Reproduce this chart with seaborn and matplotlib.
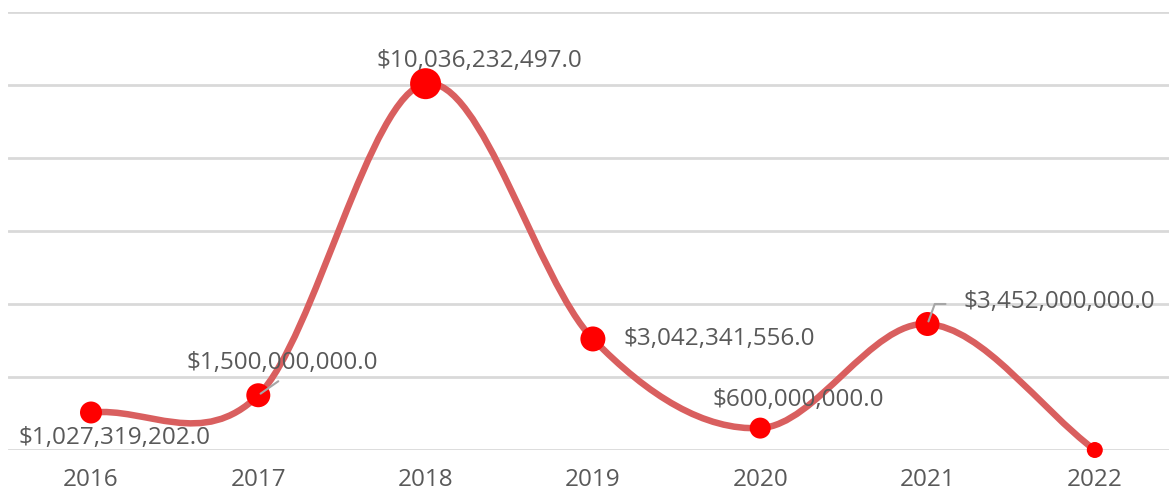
import numpy as np
import pandas as pd
import matplotlib
matplotlib.use("Agg")
import matplotlib.pyplot as plt
from matplotlib.path import Path
from matplotlib.patches import PathPatch
import seaborn as sns

# data
years = ["2016", "2017", "2018", "2019", "2020", "2021", "2022"]
amounts = [1027319202.0, 1500000000.0, 10036232497.0, 3042341556.0,
           600000000.0, 3452000000.0, 0.0]
labels = ["$1,027,319,202.0", "$1,500,000,000.0", "$10,036,232,497.0",
          "$3,042,341,556.0", "$600,000,000.0", "$3,452,000,000.0", ""]

# style
LINE_COLOR = "#d95f5f"
DOT_COLOR = "#ff0000"
TEXT_COLOR = "#595959"
GRID_COLOR = "#d9d9d9"
LEADER_COLOR = "#a6a6a6"
FONT_SIZE = 17.5
dot_px = [22, 24, 31, 25, 21, 24, 16]
# label offsets in pixels (dx, dy up), horizontal alignment
label_pos = [(23, -25, "center"), (24, 32, "center"), (54, 23, "center"),
             (31, 0, "left"), (38, 28, "center"), (132, 22, "center"), (0, 0, "center")]

PX = 72 / 100  # points per pixel at dpi 100

sns.set_theme(style="whitegrid")
plt.rcParams["font.family"] = ["Open Sans", "DejaVu Sans"]

df = pd.DataFrame({"year": years, "amount": amounts})
df["x"] = np.arange(len(df))

fig = plt.figure(figsize=(11.69, 4.95), dpi=100)
ax = fig.add_axes([8 / 1169, 45 / 495, 1 - 8 / 1169, 438 / 495])

# smoothed line (Catmull-Rom style bezier through the points)
xs = df["x"].to_numpy(dtype=float)
ys = df["amount"].to_numpy()
n = len(xs)
slopes = np.empty(n)
slopes[0] = ys[1] - ys[0]
slopes[-1] = ys[-1] - ys[-2]
slopes[1:-1] = (ys[2:] - ys[:-2]) / 2
verts = [(xs[0], ys[0])]
codes = [Path.MOVETO]
for i in range(n - 1):
    verts += [(xs[i] + 1 / 3, ys[i] + slopes[i] / 3),
              (xs[i + 1] - 1 / 3, ys[i + 1] - slopes[i + 1] / 3),
              (xs[i + 1], ys[i + 1])]
    codes += [Path.CURVE4] * 3
ax.add_patch(PathPatch(Path(verts, codes), facecolor="none", edgecolor=LINE_COLOR,
                       lw=6.5 * PX, capstyle="round", zorder=2, clip_on=False))

sns.scatterplot(data=df, x="x", y="amount", ax=ax, color=DOT_COLOR,
                s=[(d * PX) ** 2 for d in dot_px], linewidth=0, zorder=3,
                legend=False, clip_on=False)

for i, (lab, (dx, dy, ha)) in enumerate(zip(labels, label_pos)):
    if not lab:
        continue
    ax.annotate(lab, xy=(xs[i], ys[i]), xytext=(dx * PX, dy * PX),
                textcoords="offset points", ha=ha, va="center",
                fontsize=FONT_SIZE, color=TEXT_COLOR, zorder=4)

# leader lines
ax.annotate("", xy=(xs[1], ys[1]), xytext=(20 * PX, 14 * PX), textcoords="offset points",
            arrowprops=dict(arrowstyle="-", color=LEADER_COLOR, lw=1.5,
                            shrinkA=0, shrinkB=2))
ax.annotate("", xy=(xs[5], ys[5]), xytext=(18 * PX, 20 * PX), textcoords="offset points",
            arrowprops=dict(arrowstyle="-", color=LEADER_COLOR, lw=1.5,
                            connectionstyle="angle,angleA=0,angleB=70,rad=0",
                            shrinkA=0, shrinkB=2))

ax.set_xlim(-83 / 167.3, (1169 - 91) / 167.3)
ax.set_ylim(0, 12e9)
ax.set_yticks(np.arange(0, 12.1e9, 2e9))
ax.set_yticklabels([])
ax.set_xticks(df["x"])
ax.set_xticklabels(years)
ax.set_xlabel("")
ax.set_ylabel("")
ax.grid(axis="x", visible=False)
ax.grid(axis="y", color=GRID_COLOR, lw=2)
ax.tick_params(axis="x", labelsize=FONT_SIZE, labelcolor=TEXT_COLOR, pad=13, length=0)
ax.tick_params(axis="y", length=0)
for sp in ax.spines.values():
    sp.set_visible(False)

fig.savefig("out.png", dpi=100, facecolor="white")
